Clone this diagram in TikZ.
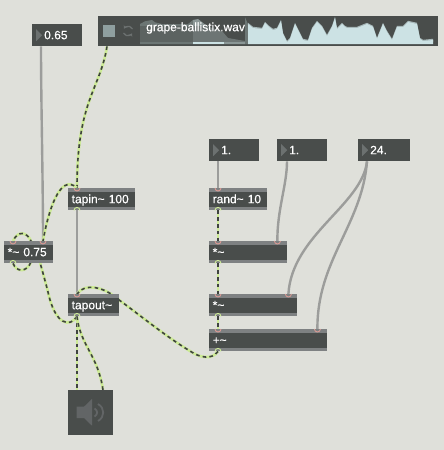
\documentclass[tikz,border=0pt]{standalone}
\usepackage{fontspec}
\setmainfont[RawFeature={embolden=0.4}]{Liberation Sans}
\usetikzlibrary{calc,arrows.meta}
\pgfdeclarelayer{bg}
\pgfdeclarelayer{cables}
\pgfsetlayers{bg,cables,main}
\definecolor{canvas}{HTML}{DFE0DA}
\definecolor{boxdark}{HTML}{494D4B}
\definecolor{stripe}{HTML}{7E8182}
\definecolor{sigyellow}{HTML}{CDEB96}
\definecolor{sigdark}{HTML}{3F433F}
\definecolor{cablegray}{HTML}{9C9D9B}
\definecolor{wave}{HTML}{CCE2E4}
\definecolor{wavemid}{HTML}{A6B7B8}
\definecolor{squarecol}{HTML}{8F9F9F}
\definecolor{wavedim}{HTML}{6C7674}
\definecolor{waveblock}{HTML}{8B9796}
\definecolor{tri}{HTML}{6C7170}
\definecolor{spk}{HTML}{626566}
\definecolor{inpink}{HTML}{D99A94}
\newcommand{\tld}{\textasciitilde}
\newcommand{\waveline}{(248,24) -- (253,28) -- (262,29) -- (265,23) -- (269,27) -- (273,30) -- (277,29) -- (281,21) -- (283,34) -- (287,42) -- (290,39) -- (295,24) -- (300,34) -- (303,40) -- (308,41) -- (312,29) -- (317,22) -- (322,27) -- (327,36) -- (332,27) -- (335,18) -- (337,29) -- (342,24) -- (345,27) -- (347,28) -- (357,28) -- (367,24) -- (373,27) -- (377,39) -- (383,24) -- (387,32) -- (392,40) -- (397,27) -- (403,27) -- (408,22) -- (417,24) -- (420,39) -- (423,41) -- (433,40)}
\tikzset{
  x=1pt,y=-1pt,
  txt/.style={text=white,font=\fontsize{12}{12}\selectfont,text height=10pt,text depth=2pt},
  objbox/.style={txt,anchor=north west,fill=boxdark,inner sep=0pt,minimum height=22pt,
    minimum width=#1 pt,text width=#1 pt-7pt,align=left,
    path picture={
      \fill[stripe] (path picture bounding box.north west) rectangle ([yshift=-3.7pt]path picture bounding box.north east);
      \fill[stripe] (path picture bounding box.south west) rectangle ([yshift=3.7pt]path picture bounding box.south east);
    }},
  numbox/.style={txt,anchor=north west,fill=boxdark,inner sep=0pt,minimum height=22pt,
    minimum width=#1 pt,text width=#1 pt-12pt,align=left,
    path picture={
      \fill[tri] ([shift={(4pt,-5pt)}]path picture bounding box.north west) --
        ([shift={(4pt,-17pt)}]path picture bounding box.north west) --
        ([shift={(10pt,-11pt)}]path picture bounding box.north west) -- cycle;
    }},
  plainbox/.style={anchor=north west,fill=boxdark,inner sep=0pt,minimum width=#1 pt},
  sig/.style={draw=sigyellow,line width=2.7pt,
    postaction={draw=sigdark,line width=1.6pt,dash pattern=on 3.6pt off 3.2pt}},
  plaincable/.style={draw=cablegray,line width=2.4pt},
  portmark/.style={draw=#1,line width=.9pt},
}
\begin{document}
\begin{tikzpicture}
\useasboundingbox (0,0) rectangle (444,450);
\begin{pgfonlayer}{bg}
\fill[canvas] (0,0) rectangle (444,450);
\end{pgfonlayer}

% objects
\node[numbox=50] (num65) at (32,24) {\hspace*{6pt}0.65};
\node[plainbox=340,minimum height=30pt] (player) at (98,16) {};
\node[numbox=50] (numA) at (209,139) {\hspace*{6pt}1.};
\node[numbox=50] (numB) at (277,139) {\hspace*{6pt}1.};
\node[numbox=52] (numC) at (358,139) {\hspace*{6pt}24.};
\node[objbox=58] (rand) at (209,188) {rand\tld{} 10};
\node[objbox=78] (mulA) at (209,241) {*\tld};
\node[objbox=88] (mulB) at (209,294) {*\tld};
\node[objbox=118] (plus) at (209,329) {+\tld};
\node[objbox=67] (tapin) at (68,188) {tapin\tld{} 100};
\node[objbox=51] (tapout) at (68,294) {tapout\tld};
\node[objbox=49] (gain) at (4,241) {*\tld{} 0.75};
\node[plainbox=45,minimum height=45pt] (dac) at (68,390) {};

% ports
\coordinate (num65o) at ([xshift=9pt]num65.south west);
\coordinate (playero) at ([xshift=9pt]player.south west);
\coordinate (numAo) at ([xshift=9pt]numA.south west);
\coordinate (numBo) at ([xshift=10pt]numB.south west);
\coordinate (numCo) at ([xshift=9pt]numC.south west);
\coordinate (randi) at ([xshift=9pt]rand.north west);
\coordinate (rando) at ([xshift=9pt]rand.south west);
\coordinate (mulAi) at ([xshift=9pt]mulA.north west);
\coordinate (mulAj) at ([xshift=-10pt]mulA.north east);
\coordinate (mulAo) at ([xshift=9pt]mulA.south west);
\coordinate (mulBi) at ([xshift=9pt]mulB.north west);
\coordinate (mulBj) at ([xshift=-9pt]mulB.north east);
\coordinate (mulBo) at ([xshift=9pt]mulB.south west);
\coordinate (plusi) at ([xshift=9pt]plus.north west);
\coordinate (plusj) at ([xshift=-10pt]plus.north east);
\coordinate (pluso) at ([xshift=9pt]plus.south west);
\coordinate (tapini) at ([xshift=9pt]tapin.north west);
\coordinate (tapino) at ([xshift=9pt]tapin.south west);
\coordinate (tapouti) at ([xshift=9pt]tapout.north west);
\coordinate (tapouto) at ([xshift=9pt]tapout.south west);
\coordinate (gaini) at ([xshift=9pt]gain.north west);
\coordinate (gainj) at ([xshift=39pt]gain.north west);
\coordinate (gaino) at ([xshift=9pt]gain.south west);
\coordinate (daci) at ([xshift=9pt]dac.north west);
\coordinate (dacj) at ([xshift=35pt]dac.north west);

% connectors
\begin{pgfonlayer}{cables}
\draw[plaincable] (num65o) .. controls (41,100) and (43,180) .. (gainj);
\draw[plaincable] (tapino) -- (tapouti);
\draw[plaincable] (numAo) -- (randi);
\draw[plaincable] (numBo) .. controls (287,185) and (277,210) .. (mulAj);
\draw[plaincable] (numCo) .. controls (362,205) and (292,235) .. (mulBj);
\draw[plaincable] (numCo) .. controls (362,225) and (317,260) .. (plusj);
\draw[sig] (playero) .. controls (100,90) and (77,100) .. (tapini);
\draw[sig] (gaino) .. controls (17,273) and (27,272) .. (31,262) -- (gainj)
  .. controls (48,212) and (60,172) .. (tapini);
\draw[sig] (tapouto) .. controls (70,328) and (55,325) .. (48,292)
  .. controls (45,280) and (42,270) .. (38,255) -- (31,241)
  .. controls (27,232) and (18,230) .. (gaini);
\draw[sig] (pluso) .. controls (212,360) and (200,358) .. (190,351)
  .. controls (165,336) and (140,315) .. (115,297)
  .. controls (105,288) and (85,282) .. (tapouti);
\draw[sig] (tapouto) -- (daci);
\draw[sig] (tapouto) .. controls (80,345) and (98,355) .. (dacj);
\draw[sig] (rando) -- (mulAi);
\draw[sig] (mulAo) -- (mulBi);
\draw[sig] (mulBo) -- (plusi);
\end{pgfonlayer}

% player details
\begin{scope}
\clip (140,14) rectangle (193,44);
\fill[wavedim] (140,44) -- (140,24) -- (145,21.3) -- (152,20) -- (155,22.3) -- (162,24) -- (188,24) -- (193,20) -- (198,19) -- (207,26) -- (215,29) -- (222,31) -- (245,32) -- (245,44) -- cycle;
\end{scope}
\begin{scope}
\clip (193,14) rectangle (245,44);
\fill[waveblock] (140,44) -- (140,24) -- (145,21.3) -- (152,20) -- (155,22.3) -- (162,24) -- (188,24) -- (193,20) -- (198,19) -- (207,26) -- (215,29) -- (222,31) -- (228,38) -- (245,41) -- (245,44) -- cycle;
\end{scope}
\fill[boxdark,opacity=.45] (140,26) rectangle (245,42);
\fill[wave] (193,42) rectangle (224,44);
\fill[wavedim] (245,44) -- (245,17.3) -- (248,24) -- (248,44) -- cycle;
\fill[wavemid,yshift=1.2pt] (248,43) -- \waveline -- (433,43) -- cycle;
\fill[wave] (248,44) -- \waveline -- (433,44) -- cycle;
\fill[squarecol] (103,25) rectangle (115,37);
\draw[tri,line width=1.3pt,-{Stealth[length=3pt,width=4pt]}] (132.5,29) arc[start angle=25,delta angle=125,radius=4.8pt];
\draw[tri,line width=1.3pt,-{Stealth[length=3pt,width=4pt]}] (123.5,33) arc[start angle=205,delta angle=125,radius=4.8pt];
\node[txt,anchor=north west,inner sep=0pt] (playerlabel) at (146,21) {grape-ballistix.wav};

% speaker icon
\fill[spk] (76.7,406.7) -- (84,406.7) -- (92,399) -- (92,425.7) -- (84,418) -- (76.7,418) -- cycle;
\draw[spk,line width=1.8pt] (94.5,408.5) .. controls (98,410.5) and (98,414.5) .. (94.5,416.5);
\draw[spk,line width=1.8pt] (98,404) .. controls (105,408) and (105,417) .. (98,421);

% port marks
\foreach \p in {randi,mulAi,mulAj,mulBi,mulBj,plusi,plusj,tapini,tapouti,gaini,gainj}
  \draw[portmark=inpink] (\p) ++(-3pt,0) arc[start angle=180,end angle=360,radius=3pt];
\foreach \p in {rando,mulAo,mulBo,pluso,tapino,tapouto,gaino}
  \draw[portmark=sigyellow] (\p) ++(-3pt,0) arc[start angle=180,end angle=0,radius=3pt];
\end{tikzpicture}
\end{document}
